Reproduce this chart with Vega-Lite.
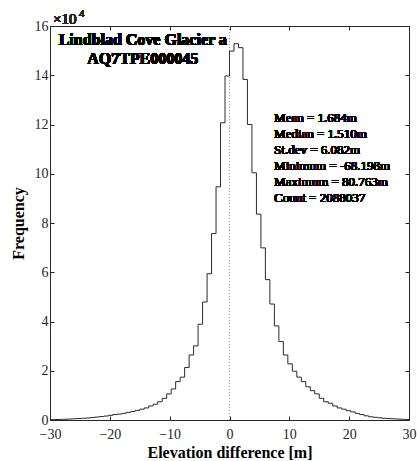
{
  "$schema": "https://vega.github.io/schema/vega-lite/v6.json",
  "width": 359,
  "height": 394,
  "autosize": "none",
  "padding": {"left": 50, "top": 26, "right": 8, "bottom": 41},
  "background": "white",
  "config": {
    "view": {"stroke": null},
    "font": "Liberation Serif",
    "axis": {
      "labelFont": "Liberation Serif",
      "titleFont": "Liberation Serif",
      "labelFontSize": 14,
      "titleFontSize": 16,
      "titleFontWeight": "bold",
      "labelColor": "#262626",
      "titleColor": "#000000",
      "domainColor": "#262626",
      "tickColor": "#262626",
      "grid": false,
      "tickSize": -4,
      "domainWidth": 1,
      "tickWidth": 1
    }
  },
  "data": {
    "values": [
      {"x": -30, "count": 150}, {"x": -29.25, "count": 200}, {"x": -28.5, "count": 250}, {"x": -27.75, "count": 300},
      {"x": -27, "count": 400}, {"x": -26.25, "count": 500}, {"x": -25.5, "count": 600}, {"x": -24.75, "count": 700},
      {"x": -24, "count": 800}, {"x": -23.25, "count": 1000}, {"x": -22.5, "count": 1200}, {"x": -21.75, "count": 1400},
      {"x": -21, "count": 1600}, {"x": -20.25, "count": 1900}, {"x": -19.5, "count": 2200}, {"x": -18.75, "count": 2400},
      {"x": -18, "count": 2700}, {"x": -17.25, "count": 3100}, {"x": -16.5, "count": 3500}, {"x": -15.75, "count": 3900},
      {"x": -15, "count": 4400}, {"x": -14.25, "count": 4900}, {"x": -13.5, "count": 5700}, {"x": -12.75, "count": 6400},
      {"x": -12, "count": 7400}, {"x": -11.25, "count": 8800}, {"x": -10.5, "count": 10600}, {"x": -9.75, "count": 12600},
      {"x": -9, "count": 15600}, {"x": -8.25, "count": 17400}, {"x": -7.5, "count": 21300}, {"x": -6.75, "count": 26400},
      {"x": -6, "count": 30100}, {"x": -5.25, "count": 38900}, {"x": -4.5, "count": 47900}, {"x": -3.75, "count": 59400},
      {"x": -3, "count": 75700}, {"x": -2.25, "count": 94700}, {"x": -1.5, "count": 120700}, {"x": -0.75, "count": 139700},
      {"x": 0, "count": 149800}, {"x": 0.75, "count": 152800}, {"x": 1.5, "count": 151200}, {"x": 2.25, "count": 138300},
      {"x": 3, "count": 120000}, {"x": 3.75, "count": 100400}, {"x": 4.5, "count": 83600}, {"x": 5.25, "count": 69900},
      {"x": 6, "count": 57000}, {"x": 6.75, "count": 47100}, {"x": 7.5, "count": 38200}, {"x": 8.25, "count": 31900},
      {"x": 9, "count": 26400}, {"x": 9.75, "count": 22800}, {"x": 10.5, "count": 19800}, {"x": 11.25, "count": 17400},
      {"x": 12, "count": 15600}, {"x": 12.75, "count": 13500}, {"x": 13.5, "count": 11900}, {"x": 14.25, "count": 10600},
      {"x": 15, "count": 8800}, {"x": 15.75, "count": 7400}, {"x": 16.5, "count": 6800}, {"x": 17.25, "count": 5700},
      {"x": 18, "count": 4900}, {"x": 18.75, "count": 4400}, {"x": 19.5, "count": 3800}, {"x": 20.25, "count": 3300},
      {"x": 21, "count": 2700}, {"x": 21.75, "count": 2200}, {"x": 22.5, "count": 1700}, {"x": 23.25, "count": 1300},
      {"x": 24, "count": 1100}, {"x": 24.75, "count": 900}, {"x": 25.5, "count": 700}, {"x": 26.25, "count": 600},
      {"x": 27, "count": 500}, {"x": 27.75, "count": 400}, {"x": 28.5, "count": 300}, {"x": 29.25, "count": 200},
      {"x": 30, "count": 200}
    ]
  },
  "layer": [
    {
      "mark": {"type": "rule", "color": "#9a9a9a", "strokeDash": [1, 2], "strokeWidth": 1},
      "encoding": {
        "x": {"datum": 0, "type": "quantitative", "scale": {"domain": [-30, 30], "nice": false, "zero": false}, "axis": null}
      }
    },
    {
      "mark": {"type": "line", "interpolate": "step-after", "color": "#2a2a2a", "strokeWidth": 1},
      "encoding": {
        "x": {
          "field": "x", "type": "quantitative",
          "scale": {"domain": [-30, 30], "nice": false, "zero": false},
          "axis": {"orient": "bottom", "values": [-30, -20, -10, 0, 10, 20, 30], "title": "Elevation difference [m]", "labelPadding": 11, "titlePadding": 3, "labelFlush": false}
        },
        "y": {
          "field": "count", "type": "quantitative",
          "scale": {"domain": [0, 160000], "nice": false},
          "axis": {"orient": "left", "values": [0, 20000, 40000, 60000, 80000, 100000, 120000, 140000, 160000], "labelExpr": "datum.value / 10000", "title": "Frequency", "labelPadding": 6, "titlePadding": 8}
        }
      }
    },
    {
      "mark": {"type": "point", "opacity": 0},
      "encoding": {
        "x": {
          "field": "x", "type": "quantitative",
          "scale": {"domain": [-30, 30], "nice": false, "zero": false},
          "axis": {"orient": "top", "values": [-30, -20, -10, 0, 10, 20, 30], "labels": false, "title": null}
        },
        "y": {
          "field": "count", "type": "quantitative",
          "scale": {"domain": [0, 160000], "nice": false},
          "axis": {"orient": "right", "values": [0, 20000, 40000, 60000, 80000, 100000, 120000, 140000, 160000], "labels": false, "title": null}
        }
      }
    },
    {
      "mark": {"type": "text", "text": ["Lindblad Cove Glacier a", "AQ7TPE000045"], "font": "Liberation Serif", "fontSize": 16, "fontWeight": "bold", "align": "center", "baseline": "alphabetic", "lineHeight": 19, "fill": "#000000"},
      "encoding": {
        "x": {"datum": -14.5, "type": "quantitative", "axis": null},
        "y": {"datum": 152200, "type": "quantitative", "axis": null}
      }
    },
    {
      "mark": {"type": "text", "text": ["Mean = 1.684m", "Median =  1.510m", "St.dev = 6.082m", "Minimum = -68.198m", "Maximum = 80.763m", "Count = 2088037"], "font": "Liberation Serif", "fontSize": 13, "align": "left", "baseline": "alphabetic", "lineHeight": 16, "fill": "#000000"},
      "encoding": {
        "x": {"datum": 7.45, "type": "quantitative", "axis": null},
        "y": {"datum": 121200, "type": "quantitative", "axis": null}
      }
    },
    {
      "mark": {"type": "text", "text": "×10", "font": "Liberation Serif", "fontSize": 15, "align": "left", "baseline": "alphabetic", "dx": 3, "dy": -2, "fill": "#262626"},
      "encoding": {
        "x": {"datum": -30, "type": "quantitative", "axis": null},
        "y": {"datum": 160000, "type": "quantitative", "axis": null}
      }
    },
    {
      "mark": {"type": "text", "text": "4", "font": "Liberation Serif", "fontSize": 11, "align": "left", "baseline": "alphabetic", "dx": 29, "dy": -9, "fill": "#262626"},
      "encoding": {
        "x": {"datum": -30, "type": "quantitative", "axis": null},
        "y": {"datum": 160000, "type": "quantitative", "axis": null}
      }
    }
  ],
  "resolve": {"axis": {"x": "independent", "y": "independent"}}
}
